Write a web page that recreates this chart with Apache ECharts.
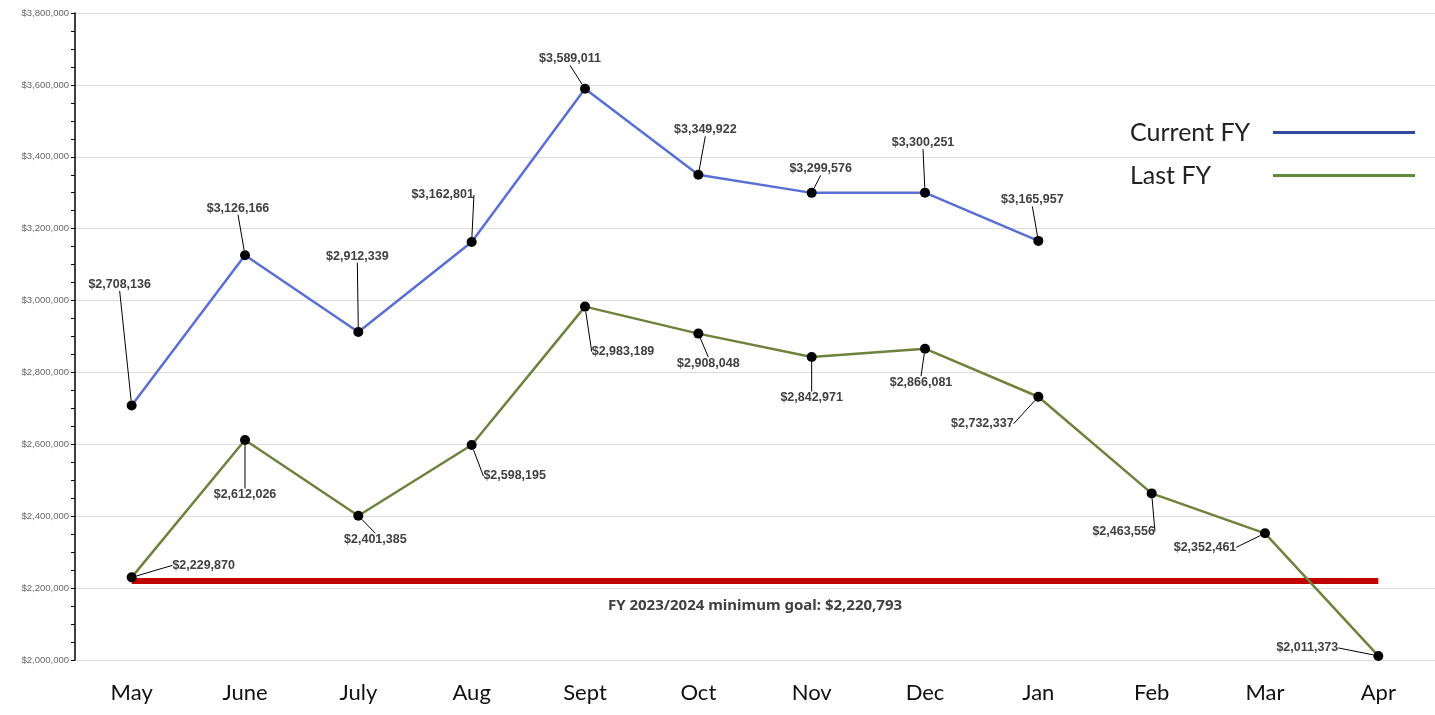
<!DOCTYPE html>
<html><head><meta charset="utf-8">
<script src="https://cdn.jsdelivr.net/npm/echarts@6/dist/echarts.min.js"></script>
<style>html,body{margin:0;padding:0;background:#fff}#c{width:1435px;height:715px}</style>
</head><body><div id="c"></div>
<script>
const months = ['May','June','July','Aug','Sept','Oct','Nov','Dec','Jan','Feb','Mar','Apr'];
const currentFY = [2708136, 3126166, 2912339, 3162801, 3589011, 3349922, 3299576, 3300251, 3165957];
const lastFY = [2229870, 2612026, 2401385, 2598195, 2983189, 2908048, 2842971, 2866081, 2732337, 2463556, 2352461, 2011373];
const goalValue = 2220793;
const goalText = 'FY 2023/2024 minimum goal: $2,220,793';
const yTicks = [2000000, 2200000, 2400000, 2600000, 2800000, 3000000, 3200000, 3400000, 3600000, 3800000];

// label offsets (styling only)
const curOff = [[-12,-121],[-7,-47],[-1,-76],[-29,-47],[-15,-30],[7,-45],[9,-24],[-2,-50],[-6,-41]];
const lastOff = [[72,-12],[0,55],[17,24],[43,31],[38,45],[10,30],[0,41],[-4,34],[-56,27],[-28,38],[-60,14],[-71,-8]];

const fmt = v => '$' + v.toLocaleString('en-US');
const chart = echarts.init(document.getElementById('c'), null, {renderer:'canvas'});
const labelStyle = {show:true, position:'inside', formatter: p => fmt(p.value), color:'#404040', fontFamily:'Liberation Sans', fontWeight:'bold', fontSize:12.5};
chart.setOption({
  backgroundColor:'#fff',
  animation:false,
  grid:{left:75, right:-2, top:13, bottom:55},
  legend:{
    orient:'vertical', right:15, top:115, align:'right', itemGap:18,
    itemWidth:142, itemHeight:3,
    formatter: n => '{a|' + n + '}',
    textStyle:{fontFamily:'Lato', fontSize:25, color:'#222',
      rich:{a:{fontFamily:'Lato', fontSize:25, color:'#222', width:138, align:'left'}}},
    data:[{name:'Current FY', icon:'rect', itemStyle:{color:'#2f4a9c'}},{name:'Last FY', icon:'rect', itemStyle:{color:'#5f8a3a'}}]
  },
  xAxis:{type:'category', data:months, boundaryGap:true,
    axisLine:{show:false}, axisTick:{show:false},
    axisLabel:{fontFamily:'Lato', fontSize:22, color:'#111', margin:22}},
  yAxis:{type:'value', min:2000000, max:3800000, interval:200000,
    axisLine:{show:true, lineStyle:{color:'#000', width:1.5}},
    axisTick:{show:true, length:4, lineStyle:{color:'#000'}},
    minorTick:{show:true, splitNumber:4, length:4, lineStyle:{color:'#000'}},
    splitLine:{lineStyle:{color:'#dcdcdc'}},
    axisLabel:{fontFamily:'Liberation Sans', fontSize:9.5, color:'#666', margin:6,
      formatter: v => yTicks.includes(v) ? fmt(v) : ''}},
  series:[
    {name:'Current FY', type:'line', data:currentFY, z:5,
      lineStyle:{color:'#5a6fd4', width:2.5}, itemStyle:{color:'#000'},
      symbol:'circle', symbolSize:10,
      label:labelStyle,
      labelLine:{show:true, lineStyle:{color:'#000', width:1}},
      labelLayout: p => ({dx:curOff[p.dataIndex][0], dy:curOff[p.dataIndex][1], hideOverlap:false})
    },
    {name:'Last FY', type:'line', data:lastFY, z:5,
      lineStyle:{color:'#6e823c', width:2.5}, itemStyle:{color:'#000'},
      symbol:'circle', symbolSize:10,
      label:labelStyle,
      labelLine:{show:true, lineStyle:{color:'#000', width:1}},
      labelLayout: p => ({dx:lastOff[p.dataIndex][0], dy:lastOff[p.dataIndex][1], hideOverlap:false}),
      markLine:{silent:true, symbol:'none', z:3,
        lineStyle:{color:'#c00000', width:6, type:'solid'},
        label:{show:true, position:'insideMiddleBottom', distance:[0,18], formatter:goalText,
          fontFamily:'Noto Sans', fontWeight:'bold', fontSize:15, color:'#404040'},
        data:[[{coord:[months[0], goalValue]},{coord:[months[months.length-1], goalValue]}]]}
    }
  ]
});
</script></body></html>
